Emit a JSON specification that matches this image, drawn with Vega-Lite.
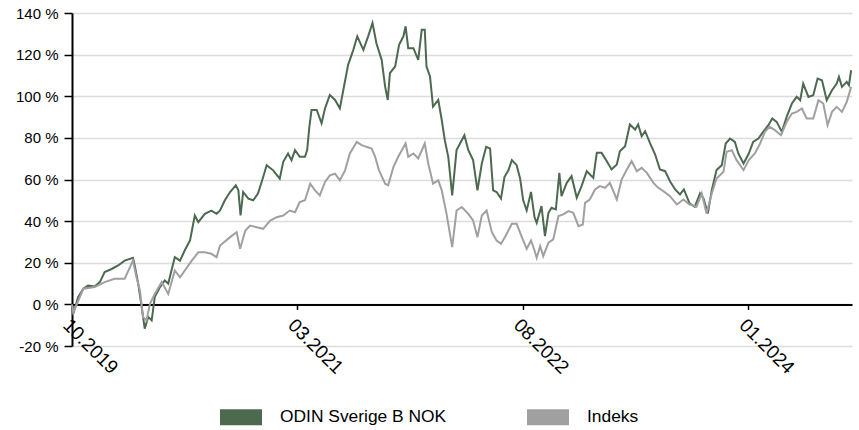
{
  "$schema": "https://vega.github.io/schema/vega-lite/v6.json",
  "width": 780,
  "height": 333,
  "autosize": "none",
  "padding": {"left": 72, "top": 13, "right": 7, "bottom": 84},
  "background": "white",
  "config": {"view": {"stroke": null}, "font": "Liberation Sans"},
  "datasets": {
    "odin": [
      {"date": "2019-10-01", "value": 0}, {"date": "2019-10-04", "value": -4.5}, {"date": "2019-10-15", "value": 3.5}, {"date": "2019-10-27", "value": 7.5},
      {"date": "2019-11-07", "value": 9}, {"date": "2019-11-22", "value": 8.6}, {"date": "2019-12-04", "value": 10.7}, {"date": "2019-12-15", "value": 15.5},
      {"date": "2019-12-31", "value": 17}, {"date": "2020-01-15", "value": 18.7}, {"date": "2020-01-30", "value": 21}, {"date": "2020-02-18", "value": 22.4},
      {"date": "2020-02-22", "value": 18.7}, {"date": "2020-03-01", "value": 10}, {"date": "2020-03-09", "value": -1.3}, {"date": "2020-03-16", "value": -11.7},
      {"date": "2020-03-24", "value": -6}, {"date": "2020-04-01", "value": -7.7}, {"date": "2020-04-08", "value": 3.5}, {"date": "2020-04-20", "value": 8.3},
      {"date": "2020-05-01", "value": 11.5}, {"date": "2020-05-09", "value": 10}, {"date": "2020-05-24", "value": 22.7}, {"date": "2020-06-05", "value": 21},
      {"date": "2020-06-16", "value": 26}, {"date": "2020-06-28", "value": 30.7}, {"date": "2020-07-09", "value": 42.7}, {"date": "2020-07-17", "value": 39.5},
      {"date": "2020-08-01", "value": 43.5}, {"date": "2020-08-16", "value": 45}, {"date": "2020-08-28", "value": 43.5}, {"date": "2020-09-05", "value": 45.1},
      {"date": "2020-09-16", "value": 50}, {"date": "2020-09-28", "value": 54}, {"date": "2020-10-11", "value": 57.2}, {"date": "2020-10-17", "value": 54.8},
      {"date": "2020-10-22", "value": 42.7}, {"date": "2020-10-28", "value": 54}, {"date": "2020-11-09", "value": 50.8}, {"date": "2020-11-20", "value": 50},
      {"date": "2020-12-01", "value": 53.2}, {"date": "2020-12-13", "value": 61.2}, {"date": "2020-12-21", "value": 66.9}, {"date": "2021-01-05", "value": 64.4},
      {"date": "2021-01-20", "value": 60.4}, {"date": "2021-01-28", "value": 68.5}, {"date": "2021-02-08", "value": 72.5}, {"date": "2021-02-16", "value": 69.3},
      {"date": "2021-02-24", "value": 74.1}, {"date": "2021-03-07", "value": 70.9}, {"date": "2021-03-19", "value": 70.9}, {"date": "2021-03-24", "value": 74.1},
      {"date": "2021-03-29", "value": 85.3}, {"date": "2021-04-03", "value": 93.4}, {"date": "2021-04-15", "value": 93.4}, {"date": "2021-04-26", "value": 87},
      {"date": "2021-05-04", "value": 94.2}, {"date": "2021-05-15", "value": 100.6}, {"date": "2021-05-27", "value": 98.2}, {"date": "2021-06-07", "value": 94.2},
      {"date": "2021-06-15", "value": 103}, {"date": "2021-06-26", "value": 115.1}, {"date": "2021-07-08", "value": 122.3}, {"date": "2021-07-17", "value": 128.8},
      {"date": "2021-07-31", "value": 122.3}, {"date": "2021-08-11", "value": 128.8}, {"date": "2021-08-21", "value": 135.2}, {"date": "2021-08-30", "value": 125.5},
      {"date": "2021-09-11", "value": 117.5}, {"date": "2021-09-19", "value": 104.6}, {"date": "2021-09-25", "value": 98.2}, {"date": "2021-09-30", "value": 111.1},
      {"date": "2021-10-12", "value": 114.3}, {"date": "2021-10-21", "value": 124.7}, {"date": "2021-10-31", "value": 128.8}, {"date": "2021-11-05", "value": 133.6},
      {"date": "2021-11-11", "value": 123.1}, {"date": "2021-11-23", "value": 123.1}, {"date": "2021-12-04", "value": 117.5}, {"date": "2021-12-12", "value": 132},
      {"date": "2021-12-19", "value": 132}, {"date": "2021-12-23", "value": 114.3}, {"date": "2021-12-31", "value": 109.5}, {"date": "2022-01-07", "value": 95},
      {"date": "2022-01-19", "value": 98.2}, {"date": "2022-01-27", "value": 88.6}, {"date": "2022-02-03", "value": 78.9}, {"date": "2022-02-11", "value": 70.9},
      {"date": "2022-02-20", "value": 52.4}, {"date": "2022-03-02", "value": 74.1}, {"date": "2022-03-10", "value": 77.3}, {"date": "2022-03-20", "value": 81.3},
      {"date": "2022-03-29", "value": 74.1}, {"date": "2022-04-09", "value": 69.3}, {"date": "2022-04-19", "value": 54.8}, {"date": "2022-04-29", "value": 67.7},
      {"date": "2022-05-09", "value": 75.7}, {"date": "2022-05-18", "value": 74.9}, {"date": "2022-05-25", "value": 54.8}, {"date": "2022-06-02", "value": 54},
      {"date": "2022-06-12", "value": 50.8}, {"date": "2022-06-20", "value": 61.2}, {"date": "2022-06-29", "value": 64.4}, {"date": "2022-07-07", "value": 69.3},
      {"date": "2022-07-18", "value": 66.9}, {"date": "2022-07-26", "value": 60.4}, {"date": "2022-08-02", "value": 50}, {"date": "2022-08-10", "value": 45.1},
      {"date": "2022-08-20", "value": 54}, {"date": "2022-08-28", "value": 41.9}, {"date": "2022-09-02", "value": 39.2}, {"date": "2022-09-13", "value": 47.2},
      {"date": "2022-09-21", "value": 32.8}, {"date": "2022-09-29", "value": 44}, {"date": "2022-10-06", "value": 46.4}, {"date": "2022-10-16", "value": 45.6},
      {"date": "2022-10-24", "value": 63.2}, {"date": "2022-10-29", "value": 52}, {"date": "2022-11-10", "value": 58.4}, {"date": "2022-11-21", "value": 61.6},
      {"date": "2022-12-03", "value": 51.2}, {"date": "2022-12-14", "value": 56.8}, {"date": "2022-12-26", "value": 64}, {"date": "2023-01-10", "value": 60.8},
      {"date": "2023-01-18", "value": 72.8}, {"date": "2023-01-29", "value": 72.8}, {"date": "2023-02-10", "value": 68.8}, {"date": "2023-02-21", "value": 64.8},
      {"date": "2023-03-05", "value": 67.2}, {"date": "2023-03-12", "value": 73.6}, {"date": "2023-03-24", "value": 76}, {"date": "2023-04-04", "value": 86.4},
      {"date": "2023-04-16", "value": 84}, {"date": "2023-04-23", "value": 86.4}, {"date": "2023-05-01", "value": 80.8}, {"date": "2023-05-09", "value": 83.2},
      {"date": "2023-05-20", "value": 77.6}, {"date": "2023-06-01", "value": 72}, {"date": "2023-06-12", "value": 64.8}, {"date": "2023-06-24", "value": 64},
      {"date": "2023-07-05", "value": 59.2}, {"date": "2023-07-17", "value": 55.2}, {"date": "2023-07-28", "value": 52.8}, {"date": "2023-08-06", "value": 55.2},
      {"date": "2023-08-19", "value": 48.5}, {"date": "2023-08-31", "value": 46.9}, {"date": "2023-09-12", "value": 53.3}, {"date": "2023-09-20", "value": 50.9},
      {"date": "2023-09-30", "value": 43.7}, {"date": "2023-10-09", "value": 54.9}, {"date": "2023-10-20", "value": 64.5}, {"date": "2023-11-01", "value": 66.9},
      {"date": "2023-11-10", "value": 77.3}, {"date": "2023-11-20", "value": 79.7}, {"date": "2023-12-01", "value": 78.1}, {"date": "2023-12-09", "value": 72.5},
      {"date": "2023-12-21", "value": 67.7}, {"date": "2024-01-02", "value": 72.5}, {"date": "2024-01-12", "value": 78.1}, {"date": "2024-01-24", "value": 79.7},
      {"date": "2024-02-04", "value": 82.9}, {"date": "2024-02-16", "value": 86.1}, {"date": "2024-02-25", "value": 89.3}, {"date": "2024-03-06", "value": 87.7},
      {"date": "2024-03-18", "value": 82.9}, {"date": "2024-03-29", "value": 90.1}, {"date": "2024-04-10", "value": 96.5}, {"date": "2024-04-21", "value": 99.7},
      {"date": "2024-04-29", "value": 98.1}, {"date": "2024-05-06", "value": 106.1}, {"date": "2024-05-18", "value": 99.7}, {"date": "2024-05-29", "value": 100.5},
      {"date": "2024-06-08", "value": 108.5}, {"date": "2024-06-18", "value": 107.7}, {"date": "2024-06-29", "value": 98.1}, {"date": "2024-07-11", "value": 102.9},
      {"date": "2024-07-22", "value": 106.1}, {"date": "2024-07-27", "value": 109.3}, {"date": "2024-08-03", "value": 104.5}, {"date": "2024-08-14", "value": 106.9},
      {"date": "2024-08-19", "value": 105.3}, {"date": "2024-08-24", "value": 112.5}
    ],
    "indeks": [
      {"date": "2019-10-01", "value": 0}, {"date": "2019-10-04", "value": -4}, {"date": "2019-10-27", "value": 7.5}, {"date": "2019-11-22", "value": 8.3},
      {"date": "2019-12-15", "value": 10.7}, {"date": "2020-01-07", "value": 12.3}, {"date": "2020-01-30", "value": 12.3}, {"date": "2020-02-18", "value": 21},
      {"date": "2020-02-26", "value": 13}, {"date": "2020-03-05", "value": 6.7}, {"date": "2020-03-12", "value": -6}, {"date": "2020-03-20", "value": -7.7},
      {"date": "2020-03-28", "value": 0.3}, {"date": "2020-04-08", "value": 5}, {"date": "2020-04-24", "value": 10.7}, {"date": "2020-05-09", "value": 5},
      {"date": "2020-05-24", "value": 16.3}, {"date": "2020-06-05", "value": 13}, {"date": "2020-06-16", "value": 16.3}, {"date": "2020-07-02", "value": 21},
      {"date": "2020-07-17", "value": 25}, {"date": "2020-08-01", "value": 25}, {"date": "2020-08-16", "value": 24.3}, {"date": "2020-08-28", "value": 22.7},
      {"date": "2020-09-05", "value": 28.3}, {"date": "2020-09-28", "value": 32.3}, {"date": "2020-10-13", "value": 34.7}, {"date": "2020-10-21", "value": 26.7},
      {"date": "2020-11-02", "value": 35.5}, {"date": "2020-11-13", "value": 37.9}, {"date": "2020-11-28", "value": 37.1}, {"date": "2020-12-13", "value": 36.3},
      {"date": "2020-12-29", "value": 40.3}, {"date": "2021-01-13", "value": 41.9}, {"date": "2021-01-28", "value": 42.7}, {"date": "2021-02-12", "value": 45.1},
      {"date": "2021-02-24", "value": 44.3}, {"date": "2021-03-07", "value": 49.2}, {"date": "2021-03-19", "value": 50}, {"date": "2021-03-31", "value": 58},
      {"date": "2021-04-11", "value": 54.8}, {"date": "2021-04-22", "value": 52.4}, {"date": "2021-05-04", "value": 58.8}, {"date": "2021-05-15", "value": 62},
      {"date": "2021-05-27", "value": 62.8}, {"date": "2021-06-07", "value": 59.6}, {"date": "2021-06-19", "value": 64.4}, {"date": "2021-06-30", "value": 72.5},
      {"date": "2021-07-16", "value": 78.1}, {"date": "2021-07-27", "value": 76.5}, {"date": "2021-08-07", "value": 75.7}, {"date": "2021-08-19", "value": 74.9},
      {"date": "2021-08-27", "value": 70.9}, {"date": "2021-09-05", "value": 64.4}, {"date": "2021-09-19", "value": 58}, {"date": "2021-09-26", "value": 57.2},
      {"date": "2021-10-08", "value": 66}, {"date": "2021-10-19", "value": 70.9}, {"date": "2021-11-05", "value": 77.3}, {"date": "2021-11-11", "value": 70.9},
      {"date": "2021-11-23", "value": 72.5}, {"date": "2021-12-04", "value": 70.1}, {"date": "2021-12-19", "value": 77.3}, {"date": "2021-12-27", "value": 67.7},
      {"date": "2022-01-07", "value": 58}, {"date": "2022-01-19", "value": 59.6}, {"date": "2022-01-27", "value": 54.8}, {"date": "2022-02-07", "value": 43.5},
      {"date": "2022-02-20", "value": 27.5}, {"date": "2022-03-02", "value": 45.1}, {"date": "2022-03-14", "value": 46.8}, {"date": "2022-03-29", "value": 43.5},
      {"date": "2022-04-09", "value": 40.3}, {"date": "2022-04-19", "value": 32.3}, {"date": "2022-04-29", "value": 42.7}, {"date": "2022-05-10", "value": 45.1},
      {"date": "2022-05-22", "value": 34.7}, {"date": "2022-06-02", "value": 30.7}, {"date": "2022-06-12", "value": 29.1}, {"date": "2022-06-21", "value": 32.3},
      {"date": "2022-07-07", "value": 38.7}, {"date": "2022-07-18", "value": 38.7}, {"date": "2022-07-30", "value": 32.3}, {"date": "2022-08-10", "value": 26.7},
      {"date": "2022-08-20", "value": 30.7}, {"date": "2022-08-28", "value": 25.9}, {"date": "2022-09-02", "value": 22.4}, {"date": "2022-09-10", "value": 28},
      {"date": "2022-09-17", "value": 23.2}, {"date": "2022-09-29", "value": 29.6}, {"date": "2022-10-10", "value": 31.2}, {"date": "2022-10-22", "value": 42.4},
      {"date": "2022-11-02", "value": 43.2}, {"date": "2022-11-14", "value": 44.8}, {"date": "2022-11-25", "value": 44}, {"date": "2022-12-07", "value": 37.6},
      {"date": "2022-12-17", "value": 38.4}, {"date": "2022-12-22", "value": 48.8}, {"date": "2023-01-02", "value": 50.4}, {"date": "2023-01-14", "value": 55.2},
      {"date": "2023-01-25", "value": 56.8}, {"date": "2023-02-06", "value": 56}, {"date": "2023-02-17", "value": 58.4}, {"date": "2023-03-05", "value": 50.4},
      {"date": "2023-03-16", "value": 60}, {"date": "2023-03-28", "value": 64.8}, {"date": "2023-04-08", "value": 68.8}, {"date": "2023-04-20", "value": 64},
      {"date": "2023-05-01", "value": 65.6}, {"date": "2023-05-13", "value": 63.2}, {"date": "2023-05-28", "value": 58.4}, {"date": "2023-06-08", "value": 56},
      {"date": "2023-06-20", "value": 54.4}, {"date": "2023-07-05", "value": 52}, {"date": "2023-07-21", "value": 48}, {"date": "2023-08-05", "value": 50.4},
      {"date": "2023-08-19", "value": 48}, {"date": "2023-08-24", "value": 47.7}, {"date": "2023-09-04", "value": 46.9}, {"date": "2023-09-16", "value": 53.3},
      {"date": "2023-09-27", "value": 43.7}, {"date": "2023-10-09", "value": 53.3}, {"date": "2023-10-20", "value": 60.5}, {"date": "2023-11-05", "value": 63.7},
      {"date": "2023-11-12", "value": 73.3}, {"date": "2023-11-24", "value": 74.1}, {"date": "2023-12-05", "value": 69.3}, {"date": "2023-12-21", "value": 64.5},
      {"date": "2024-01-02", "value": 69.3}, {"date": "2024-01-16", "value": 72.5}, {"date": "2024-01-28", "value": 77.3}, {"date": "2024-02-08", "value": 82.9},
      {"date": "2024-02-19", "value": 85.3}, {"date": "2024-03-02", "value": 83.7}, {"date": "2024-03-16", "value": 81.3}, {"date": "2024-03-29", "value": 87.7},
      {"date": "2024-04-10", "value": 91.7}, {"date": "2024-04-21", "value": 92.5}, {"date": "2024-05-03", "value": 94.1}, {"date": "2024-05-14", "value": 89.3},
      {"date": "2024-05-29", "value": 89.3}, {"date": "2024-06-10", "value": 98.1}, {"date": "2024-06-21", "value": 96.5}, {"date": "2024-07-01", "value": 86.1},
      {"date": "2024-07-11", "value": 92.5}, {"date": "2024-07-22", "value": 94.9}, {"date": "2024-08-03", "value": 92.5}, {"date": "2024-08-14", "value": 97.3},
      {"date": "2024-08-24", "value": 104.5}
    ]
  },
  "encoding": {
    "x": {
      "field": "date",
      "type": "temporal",
      "title": null,
      "scale": {"domain": [{"year": 2019, "month": 10, "date": 1}, {"year": 2024, "month": 8, "date": 26}]},
      "axis": {
        "values": [{"year": 2019, "month": 10, "date": 1}, {"year": 2021, "month": 3, "date": 1}, {"year": 2022, "month": 8, "date": 1}, {"year": 2024, "month": 1, "date": 1}],
        "format": "%m.%Y",
        "labelAngle": 45,
        "labelAlign": "left",
        "labelBaseline": "top",
        "labelFlush": false,
        "labelOverlap": false,
        "labelBound": false,
        "offset": -41.6,
        "grid": false,
        "domainColor": "black",
        "domainWidth": 2,
        "tickColor": "black",
        "tickSize": 5,
        "tickWidth": 1.5,
        "labelFont": "Liberation Sans",
        "labelFontSize": 19,
        "labelColor": "black",
        "labelPadding": 6
      }
    },
    "y": {
      "field": "value",
      "type": "quantitative",
      "title": null,
      "scale": {"domain": [-20, 140], "nice": false, "zero": false},
      "axis": {
        "values": [-20, 0, 20, 40, 60, 80, 100, 120, 140],
        "labelExpr": "datum.value + ' %'",
        "domainColor": "black",
        "domainWidth": 2,
        "tickColor": "black",
        "tickSize": 8,
        "tickWidth": 1.5,
        "labelFont": "Liberation Sans",
        "labelFontSize": 15,
        "labelColor": "black",
        "labelPadding": 6,
        "gridColor": "#dcdcdc",
        "gridWidth": 1.5
      }
    }
  },
  "layer": [
    {
      "data": {"name": "odin"},
      "mark": {"type": "line", "strokeWidth": 2},
      "encoding": {
        "color": {
          "datum": "ODIN Sverige B NOK",
          "type": "nominal",
          "scale": {"domain": ["ODIN Sverige B NOK", "Indeks"], "range": ["#4d6950", "#a0a0a0"]},
          "legend": {
            "orient": "none",
            "legendX": 148,
            "legendY": 383,
            "direction": "horizontal",
            "title": null,
            "padding": 0,
            "symbolType": "M-1,-0.38H1V0.38H-1Z",
            "symbolSize": 1764,
            "symbolStrokeWidth": 0,
            "labelFont": "Liberation Sans",
            "labelFontSize": 17.4,
            "labelColor": "black",
            "labelOffset": 18,
            "labelLimit": 0,
            "columnPadding": 80,
            "encode": {"symbols": {"update": {"fill": {"scale": "color", "field": "value"}, "opacity": {"value": 1}}}}
          }
        }
      }
    },
    {
      "data": {"name": "indeks"},
      "mark": {"type": "line", "strokeWidth": 2},
      "encoding": {"color": {"datum": "Indeks", "type": "nominal"}}
    }
  ]
}
